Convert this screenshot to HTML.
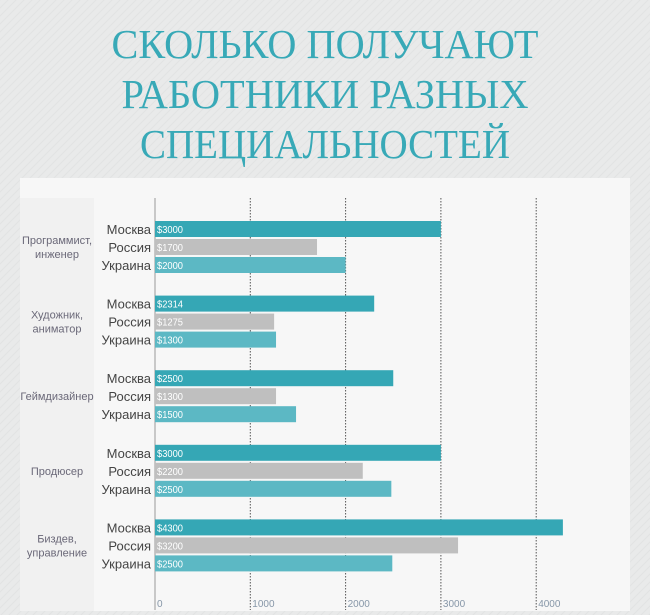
<!DOCTYPE html>
<html><head><meta charset="utf-8"><style>
html,body{margin:0;padding:0;width:650px;height:615px;overflow:hidden;background:#e9eaea;}
svg{display:block}
</style></head><body>
<svg width="650" height="615" viewBox="0 0 650 615" xmlns="http://www.w3.org/2000/svg">
<defs>
<pattern id="bgp" width="8" height="8" patternUnits="userSpaceOnUse">
<rect width="8" height="8" fill="#e9eaea"/><path d="M0 8L8 0M-2 2L2 -2M6 10L10 6" stroke="#e2e3e3" stroke-width="1"/>
</pattern>
</defs>
<rect width="650" height="615" fill="url(#bgp)"/>
<g fill="#38a9b7" font-family="Liberation Serif, serif" font-size="41" text-anchor="middle">
<text x="325" y="58" textLength="427" lengthAdjust="spacingAndGlyphs">СКОЛЬКО ПОЛУЧАЮТ</text>
<text x="325" y="108" textLength="407" lengthAdjust="spacingAndGlyphs">РАБОТНИКИ РАЗНЫХ</text>
<text x="325" y="158" textLength="370" lengthAdjust="spacingAndGlyphs">СПЕЦИАЛЬНОСТЕЙ</text>
</g>
<rect x="20" y="178" width="610" height="433" fill="#f7f7f7"/>
<rect x="20" y="198" width="74" height="413" fill="#f1f1f1"/>
<g id="chart"></g>
</svg>
<script>
const categories = [["Программист,","инженер"],["Художник,","аниматор"],["Геймдизайнер"],["Продюсер"],["Бздев,","управление"]];
const seriesNames = ["Москва","Россия","Украина"];
const moscow = [3000, 2300, 2500, 3000, 4280];
const russia = [1700, 1250, 1270, 2180, 3180];
const ukraine = [2000, 1270, 1480, 2480, 2490];
const moscowLabels = ["$3000","$2314","$2500","$3000","$4300"];
const russiaLabels = ["$1700","$1275","$1300","$2200","$3200"];
const ukraineLabels = ["$2000","$1300","$1500","$2500","$2500"];
const ticks = [0,1000,2000,3000,4000];
const tickLabels = ["0","1000","2000","3000","4000"];
categories[4][0] = "Биздев,";

const NS = "http://www.w3.org/2000/svg";
const g = document.getElementById('chart');
const x0 = 155, pxPer = 0.0953;
const xs = v => x0 + v * pxPer;
const groupY = i => 247 + i * 74.6;
function mk(tag, attrs, parent){const e=document.createElementNS(NS,tag);for(const k in attrs)e.setAttribute(k,attrs[k]);(parent||g).appendChild(e);return e;}

ticks.forEach((t,i)=>{
  if(t>0){
    const l = mk('line',{x1:xs(t),x2:xs(t),y1:198,y2:610,stroke:'#555','stroke-width':1,'stroke-dasharray':'1.5,1.5'});
    
    
  }
  const tx = mk('text',{x:xs(t)+2,y:607,'font-family':'Liberation Sans, sans-serif','font-size':10,fill:'#8797a8'});
  tx.textContent = tickLabels[i];
  
  
});
const ax = mk('line',{x1:x0,x2:x0,y1:198,y2:610,stroke:'#999','stroke-width':1});



const series = [[moscow,moscowLabels,'#35a7b5'],[russia,russiaLabels,'#bfbfbf'],[ukraine,ukraineLabels,'#5cb8c4']];
categories.forEach((c,i)=>{
  const cy = groupY(i);
  const cl = mk('text',{x:57,'font-family':'Liberation Sans, sans-serif','font-size':11,fill:'#6a6878','text-anchor':'middle'});
  
  
  c.forEach((line,j)=>{
    const ts = mk('tspan',{x:57,y:cy+4+(j-(c.length-1)/2)*14},cl);
    ts.textContent = line;
  });
  series.forEach((s,k)=>{
    const by = cy - 26 + k*18;
    const r = mk('rect',{x:x0,y:by,width:Math.max(0,xs(s[0][i])-x0),height:16,fill:s[2]});
    
    
    const vl = mk('text',{x:x0+2,y:by+12,'font-family':'Liberation Sans, sans-serif','font-size':10,fill:'#fff',textLength:26,lengthAdjust:'spacingAndGlyphs'});
    vl.textContent = s[1][i];
    
    
    const sl = mk('text',{x:151,y:by+13,'font-family':'Liberation Sans, sans-serif','font-size':13,fill:'#444','text-anchor':'end'});
    sl.textContent = seriesNames[k];
    
    
  });
});
</script>
</body></html>
